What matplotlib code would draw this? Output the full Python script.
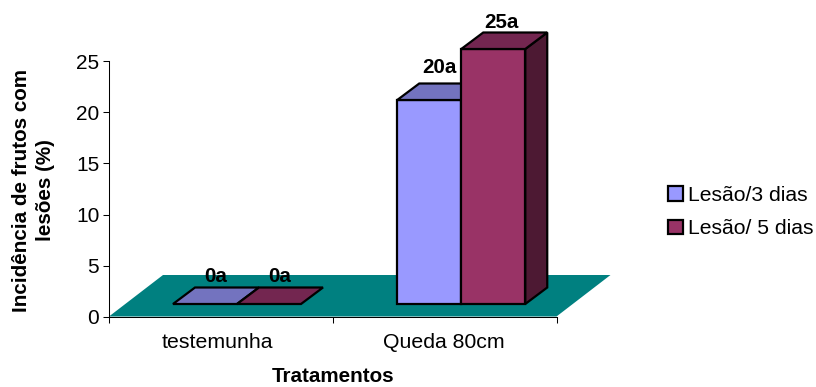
import matplotlib
matplotlib.use("Agg")
import matplotlib.pyplot as plt
from matplotlib.patches import Polygon, Patch
from matplotlib.transforms import ScaledTranslation

plt.rcParams['font.family'] = ['Liberation Sans', 'DejaVu Sans']

categories = ["testemunha", "Queda 80cm"]
series_names = ["Lesão/3 dias", "Lesão/ 5 dias"]
lesao_3_dias = [0, 20]
lesao_5_dias = [0, 25]
data_labels = [["0a", "20a"], ["0a", "25a"]]
y_ticks = [0, 5, 10, 15, 20, 25]

W, H = 816, 387
fig = plt.figure(figsize=(W / 100, H / 100), dpi=100)
X0, X1, Y0, Y1 = 109, 556.5, 316.5, 61.5
ax = fig.add_axes([X0 / W, 1 - Y0 / H, (X1 - X0) / W, (Y0 - Y1) / H])
ax.set_xlim(0, len(categories))
ax.set_ylim(0, 25)
ax.patch.set_visible(False)

ux = len(categories) / (X1 - X0)   # data per pixel
uy = 25 / (Y0 - Y1)

def poly(pts, fc, lw=1.6, ec='black', z=3):
    ax.add_patch(Polygon([(x, y) for x, y in pts], closed=True, facecolor=fc,
                         edgecolor=ec, linewidth=lw, joinstyle='miter',
                         clip_on=False, zorder=z))

# floor
fx, fy = 54 * ux, 41.5 * uy
poly([(0, 0), (fx, fy), (2 + fx, fy), (2, 0)], '#008080', lw=0, ec='none', z=1)

# bars
gap_x, gap_y = 16 * ux, 12.5 * uy     # front of bar relative to front of floor
dx, dy = 22 * ux, 16.5 * uy           # bar depth
bw = 64 * ux
margin = 48 * ux
styles = [('#9999FF', '#7373BF', '#4D4D80'), ('#993366', '#732650', '#4D1933')]
nudge_y = [[5, 10.5], [5, 4]]         # label gap above back edge, pixels
nudge_x = [10.5, 8]

for s, vals in enumerate([lesao_3_dias, lesao_5_dias]):
    front, top, side = styles[s]
    for c, v in enumerate(vals):
        x = c + gap_x + margin + s * bw
        if c == 1:
            x += 0.5 * ux
        b = gap_y
        t = b + v
        if v > 0:
            poly([(x + bw, b), (x + bw + dx, b + dy), (x + bw + dx, t + dy), (x + bw, t)], side, z=3 + s)
            poly([(x, b), (x + bw, b), (x + bw, t), (x, t)], front, z=3 + s)
        poly([(x, t), (x + dx, t + dy), (x + bw + dx, t + dy), (x + bw, t)], top, z=3 + s)
        ax.text(x + bw / 2 + nudge_x[0 if c == 0 or s == 0 else 1] * ux,
                t + dy + nudge_y[s][c] * uy,
                data_labels[s][c], ha='center', va='baseline',
                fontsize=14.8, fontweight='bold', color='black', zorder=6, clip_on=False)

# axes
for sp in ['top', 'right']:
    ax.spines[sp].set_visible(False)
for sp in ['left', 'bottom']:
    ax.spines[sp].set_linewidth(0.75)
    ax.spines[sp].set_zorder(2)
ax.set_yticks(y_ticks)
ax.set_xticks(range(len(categories) + 1))
ax.set_xticklabels([])
ax.set_xticks([i + 0.5 for i in range(len(categories))], minor=True)
ax.set_xticklabels(categories, minor=True)
ax.tick_params(axis='x', which='major', length=4, width=0.75, direction='out')
ax.tick_params(axis='x', which='minor', length=0, labelsize=15.3, pad=12)
ax.tick_params(axis='y', length=4, width=0.75, direction='out', labelsize=15, pad=3)
for lab, shift in zip(ax.get_xticklabels(minor=True), [-3.0, -1.0]):
    lab.set_transform(lab.get_transform() + ScaledTranslation(shift / 100, 0, fig.dpi_scale_trans))

fig.text(333 / W, 1 - 377 / H, "Tratamentos", ha='center', va='center',
         fontsize=14.9, fontweight='bold')
fig.text(33.5 / W, 1 - 190 / H, "Incidência de frutos com\nlesões (%)", ha='center', va='center',
         rotation=90, fontsize=14.9, fontweight='bold', linespacing=1.38, multialignment='center')

handles = [Patch(facecolor=styles[i][0], edgecolor='black', linewidth=1.6) for i in range(2)]
fig.legend(handles, series_names, loc='center left', bbox_to_anchor=(668 / W, 1 - 212 / H),
           frameon=False, fontsize=15.2, handlelength=0.7, handleheight=0.7,
           handletextpad=0.25, labelspacing=0.7, borderpad=0, borderaxespad=0)

fig.savefig("out.png", dpi=100)
